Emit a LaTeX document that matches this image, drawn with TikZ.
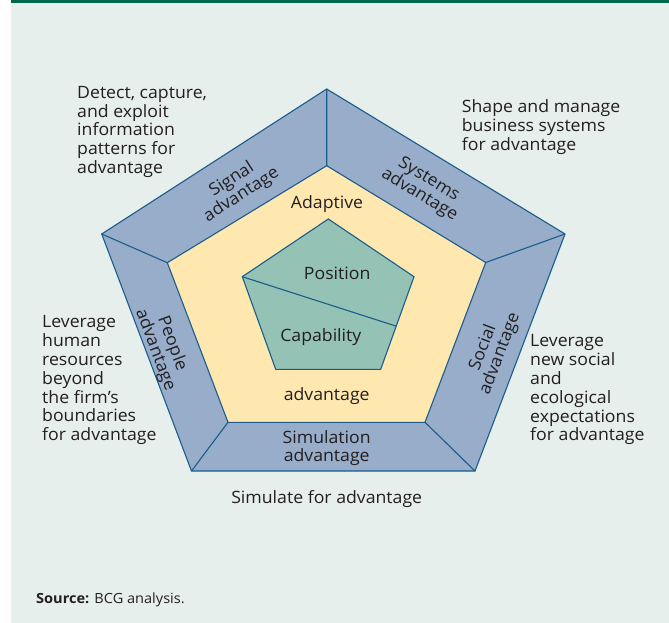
\documentclass[tikz,border=0pt]{standalone}
\usepackage{fontspec}
\setmainfont{Open Sans}
\definecolor{bgc}{HTML}{E6EFEB}
\definecolor{barc}{HTML}{00684A}
\definecolor{bandc}{HTML}{97ADCA}
\definecolor{yelc}{HTML}{FFE8B0}
\definecolor{grnc}{HTML}{94C2B4}
\definecolor{linec}{HTML}{1A5C8C}
\definecolor{txtc}{HTML}{231F20}
\newfontfamily\widesans[FakeStretch=1.04]{Open Sans}
\tikzset{
  edge/.style={draw=linec, line width=1.1pt, line join=miter},
  desc/.style={inner sep=0pt, align=left, text=txtc, font=\widesans\fontsize{17}{18.8}\selectfont},
  lbl/.style={inner sep=0pt, align=center, text=txtc, font=\widesans\fontsize{17}{18}\selectfont},
  srcstyle/.style={inner sep=0pt, text=txtc, font=\widesans\fontsize{14}{16}\selectfont}
}
\begin{document}
\begin{tikzpicture}[x=1pt,y=-1pt]
\useasboundingbox (0,0) rectangle (669,623);
\fill[bgc] (11,0) rectangle (669,623);
\fill[barc] (11,0) rectangle (669,3.2);
% outer pentagon
\coordinate (O1) at (326.7,89);
\coordinate (O2) at (565,234);
\coordinate (O3) at (475,471);
\coordinate (O4) at (191.5,471);
\coordinate (O5) at (101.7,234);
% inner pentagon
\coordinate (I1) at (326.7,165.7);
\coordinate (I2) at (485.7,262.5);
\coordinate (I3) at (425,422.3);
\coordinate (I4) at (228,422.3);
\coordinate (I5) at (167.3,262.7);
% core pentagon
\coordinate (G1) at (328.3,219);
\coordinate (G2) at (414,276.7);
\coordinate (G3) at (380.7,369.3);
\coordinate (G4) at (275.7,369.3);
\coordinate (G5) at (242.3,276.7);
\coordinate (GD) at (395.7,326);
\path[fill=bandc, edge] (O1)--(O2)--(O3)--(O4)--(O5)--cycle;
\path[fill=yelc, edge] (I1)--(I2)--(I3)--(I4)--(I5)--cycle;
\draw[edge] (O1)--(I1) (O2)--(I2) (O3)--(I3) (O4)--(I4) (O5)--(I5);
\path[fill=grnc, edge] (G1)--(G2)--(G3)--(G4)--(G5)--cycle;
\draw[edge] (G5)--(GD);
% band labels
\node[lbl, rotate=32.8] (sig) at (236.7,187.5) {Signal\\advantage};
\node[lbl, rotate=-31.3] (sys) at (424,187.5) {Systems\\advantage};
\node[lbl, rotate=-69.4] (peo) at (163.5,346.7) {People\\advantage};
\node[lbl, rotate=69.2] (soc) at (491.7,350.7) {Social\\advantage};
\node[lbl] (simu) at (326.7,448) {Simulation\\advantage};
% inner labels
\node[lbl, anchor=base] (adap) at (327,208.3) {Adaptive};
\node[lbl, anchor=base] (adv) at (326.7,400.7) {advantage};
\node[lbl, anchor=base] (pos) at (337.2,279) {Position};
\node[lbl, anchor=base] (cap) at (320.8,341.7) {Capability};
% descriptions
\node[desc, anchor=north west] (dsig) at (77,86) {Detect, capture,\\and exploit\\information\\patterns for\\advantage};
\node[desc, anchor=north west] (dsys) at (461.7,99.5) {Shape and manage\\business systems\\for advantage};
\node[desc, anchor=north west] (dpeo) at (42,315.5) {Leverage\\human\\resources\\beyond\\the firm’s\\boundaries\\for advantage};
\node[desc, anchor=north west] (dsoc) at (530,334.5) {Leverage\\new social\\and\\ecological\\expectations\\for advantage};
\node[desc, anchor=base] (dsim) at (326.7,503) {Simulate for advantage};
\node[srcstyle, anchor=base west] (src) at (36,603.3) {\textbf{Source:} BCG analysis.};
\end{tikzpicture}
\end{document}
